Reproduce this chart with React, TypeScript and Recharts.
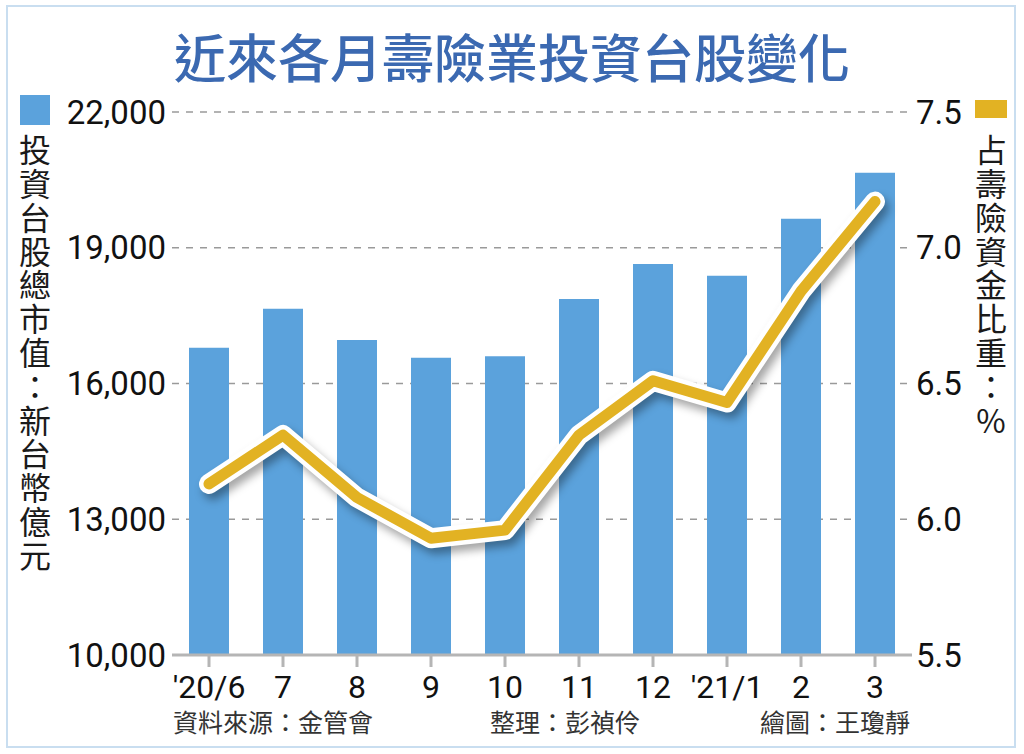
import React from 'react';
import { ComposedChart, Bar, Line, XAxis, YAxis, CartesianGrid } from 'recharts';

const months = ["'20/6", '7', '8', '9', '10', '11', '12', "'21/1", '2', '3'];
const stockValue = [16790, 17650, 16960, 16570, 16600, 17870, 18640, 18380, 19640, 20660];
const shareRatio = [6.13, 6.31, 6.08, 5.93, 5.96, 6.31, 6.51, 6.43, 6.84, 7.17];
const leftTicks = [10000, 13000, 16000, 19000, 22000];
const rightTicks = [5.5, 6.0, 6.5, 7.0, 7.5];

const data = months.map((m, i) => ({ month: m, value: stockValue[i], share: shareRatio[i] }));

const numFont = 'Roboto, "Noto Sans", sans-serif';
const cjkFont = '"Noto Sans CJK TC", "Noto Sans CJK SC", sans-serif';

const css = `
.shadowLine path { filter: drop-shadow(4px 6px 4px rgba(0,0,0,0.35)); }
`;

export default function App() {
  return (
    <div style={{ position: 'absolute', left: 0, top: 0, width: 1024, height: 754, background: '#fff', overflow: 'hidden' }}>
      <style>{css}</style>
      <div style={{ position: 'absolute', left: 6, top: 5, width: 1010, height: 743, border: '2px solid #c9def0', boxSizing: 'border-box' }} />
      <div style={{ position: 'absolute', left: 0, top: 24, width: 1024, textAlign: 'center', fontFamily: cjkFont, fontSize: 52, fontWeight: 500, color: '#3b69b1', lineHeight: '64px' }}>
        近來各月壽險業投資台股變化
      </div>
      <ComposedChart width={1024} height={754} data={data} margin={{ top: 112, right: 0, bottom: 0, left: 0 }} style={{ position: 'absolute', left: 0, top: 0 }}>
        <CartesianGrid vertical={false} stroke="#9a9a9a" strokeDasharray="7 7" strokeWidth={1.5} yAxisId="left" />
        <XAxis
          dataKey="month"
          height={99}
          axisLine={{ stroke: '#b5b5b5', strokeWidth: 3 }}
          tickLine={{ stroke: '#b5b5b5', strokeWidth: 3 }}
          tickSize={12}
          tickMargin={8}
          tick={{ fontFamily: numFont, fontSize: 32, fill: '#111' }}
          interval={0}
        />
        <YAxis
          yAxisId="left"
          orientation="left"
          width={172}
          domain={[10000, 22000]}
          ticks={leftTicks}
          axisLine={false}
          tickLine={false}
          tickSize={0}
          tickMargin={6}
          tickFormatter={(v: number) => v.toLocaleString('en-US')}
          tick={{ fontFamily: numFont, fontSize: 33, fill: '#111' }}
        />
        <YAxis
          yAxisId="right"
          orientation="right"
          width={112}
          domain={[5.5, 7.5]}
          ticks={rightTicks}
          axisLine={false}
          tickLine={false}
          tickSize={0}
          tickMargin={4}
          tickFormatter={(v: number) => v.toFixed(1)}
          tick={{ fontFamily: numFont, fontSize: 33, fill: '#111', textAnchor: 'start' }}
        />
        <Bar yAxisId="left" dataKey="value" fill="#5ba2dc" barSize={40} isAnimationActive={false} />
        <Line
          yAxisId="right"
          dataKey="share"
          type="linear"
          className="shadowLine"
          stroke="#ffffff"
          strokeWidth={20}
          strokeLinecap="round"
          strokeLinejoin="round"
          dot={false}
          activeDot={false}
          isAnimationActive={false}
        />
        <Line
          yAxisId="right"
          dataKey="share"
          type="linear"
          stroke="#e2b223"
          strokeWidth={11}
          strokeLinecap="round"
          strokeLinejoin="round"
          dot={false}
          activeDot={false}
          isAnimationActive={false}
        />
      </ComposedChart>
      <div style={{ position: 'absolute', left: 20, top: 95, width: 30, height: 30, background: '#5ba2dc' }} />
      <div style={{ position: 'absolute', left: 18, top: 134, writingMode: 'vertical-rl', textOrientation: 'upright', fontFamily: cjkFont, fontSize: 32, lineHeight: '34px', color: '#1a1a1a', letterSpacing: 1.8 }}>
        投資台股總市值：新台幣億元
      </div>
      <div style={{ position: 'absolute', left: 975, top: 100, width: 32, height: 18, background: '#e2b223' }} />
      <div style={{ position: 'absolute', left: 974, top: 134, writingMode: 'vertical-rl', textOrientation: 'upright', fontFamily: cjkFont, fontSize: 32, lineHeight: '34px', color: '#1a1a1a', letterSpacing: 1.8 }}>
        占壽險資金比重：%
      </div>
      <div style={{ position: 'absolute', left: 173, top: 706, fontFamily: cjkFont, fontSize: 25, color: '#333', lineHeight: '30px' }}>資料來源：金管會</div>
      <div style={{ position: 'absolute', left: 490, top: 706, fontFamily: cjkFont, fontSize: 25, color: '#333', lineHeight: '30px' }}>整理：彭禎伶</div>
      <div style={{ position: 'absolute', left: 760, top: 706, fontFamily: cjkFont, fontSize: 25, color: '#333', lineHeight: '30px' }}>繪圖：王瓊靜</div>
    </div>
  );
}
